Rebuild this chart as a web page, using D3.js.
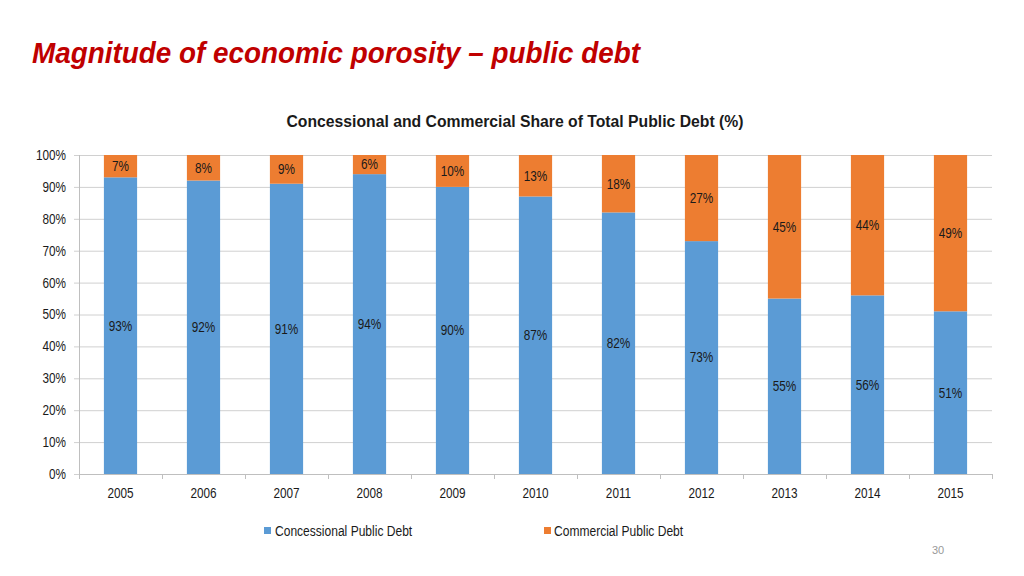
<!DOCTYPE html>
<html><head><meta charset="utf-8">
<script src="https://cdn.jsdelivr.net/npm/d3@7"></script>
<style>body{margin:0;background:#fff;}svg{display:block;}</style>
</head><body>
<svg id="c" width="1024" height="576"></svg>
<script>
const years = ["2005","2006","2007","2008","2009","2010","2011","2012","2013","2014","2015"];
const concessional = [93,92,91,94,90,87,82,73,55,56,51];
const commercial = [7,8,9,6,10,13,18,27,45,44,49];
const yTicks = [0,10,20,30,40,50,60,70,80,90,100];
const seriesNames = ["Concessional Public Debt","Commercial Public Debt"];
const colors = ["#5B9BD5","#ED7D31"];

const font = "'Liberation Sans Narrow','Arial Narrow','Liberation Sans',Arial,sans-serif";
const svg = d3.select("#c");
const m = {l:79, r:992, t:155, b:474};

function narrow(sel, k){
  sel.each(function(){
    const len = this.getComputedTextLength();
    d3.select(this).attr("textLength", len*k).attr("lengthAdjust","spacingAndGlyphs");
  });
}

const x = d3.scaleBand().domain(years).range([m.l, m.r]).paddingInner(0.6).paddingOuter(0.3);
const xb = d3.scaleBand().domain(years).range([m.l, m.r]);
const y = d3.scaleLinear().domain([0,100]).range([m.b, m.t]);

// title
svg.append("text").attr("x",32).attr("y",63).attr("fill","#C00000")
  .attr("font-family",font).attr("font-weight","bold").attr("font-style","italic")
  .attr("font-size",30).attr("textLength",608).attr("lengthAdjust","spacingAndGlyphs")
  .text("Magnitude of economic porosity \u2013 public debt");

svg.append("text").attr("x",515).attr("y",127).attr("text-anchor","middle").attr("fill","#1a1a1a")
  .attr("font-family",font).attr("font-weight","bold").attr("font-size",16)
  .attr("textLength",457).attr("lengthAdjust","spacingAndGlyphs")
  .text("Concessional and Commercial Share of Total Public Debt (%)");

// gridlines
svg.append("g").selectAll("line").data(yTicks).join("line")
  .attr("x1",m.l-5).attr("x2",m.r).attr("y1",d=>y(d)+0.5).attr("y2",d=>y(d)+0.5)
  .attr("stroke","#d0d0d0").attr("stroke-width",1);

// y labels
svg.append("g").selectAll("text").data(yTicks).join("text")
  .attr("x",m.l-13).attr("y",d=>y(d)).attr("dy","0.35em").attr("text-anchor","end")
  .attr("font-family",font).attr("font-size",14).attr("fill","#1a1a1a").text(d=>d+"%")
  .call(narrow,0.84);

// axis lines
svg.append("line").attr("x1",m.l+0.5).attr("x2",m.l+0.5).attr("y1",m.t).attr("y2",m.b+5).attr("stroke","#bfbfbf");
svg.append("line").attr("x1",m.l).attr("x2",m.r).attr("y1",m.b+0.5).attr("y2",m.b+0.5).attr("stroke","#bfbfbf");
svg.append("g").selectAll("line").data(years.concat(["end"])).join("line")
  .attr("x1",(d,i)=>Math.round(m.l+i*xb.step())+0.5).attr("x2",(d,i)=>Math.round(m.l+i*xb.step())+0.5)
  .attr("y1",m.b).attr("y2",m.b+5).attr("stroke","#bfbfbf");

// x labels
svg.append("g").selectAll("text").data(years).join("text")
  .attr("x",d=>x(d)+x.bandwidth()/2).attr("y",498).attr("text-anchor","middle")
  .attr("font-family",font).attr("font-size",14).attr("fill","#1a1a1a").text(d=>d)
  .call(narrow,0.84);

// bars
const rows = years.map((yr,i)=>({year:yr, a:concessional[i], b:commercial[i]}));
const stack = d3.stack().keys(["a","b"])(rows);
const g = svg.append("g");
stack.forEach((s,si)=>{
  g.selectAll(null).data(s).join("rect")
    .attr("x",d=>x(d.data.year)).attr("width",x.bandwidth())
    .attr("y",d=>y(Math.min(d[1],100))).attr("height",d=>y(d[0])-y(Math.min(d[1],100)))
    .attr("fill",colors[si]);
  g.selectAll(null).data(s).join("text")
    .attr("x",d=>x(d.data.year)+x.bandwidth()/2)
    .attr("y",d=>y((d[0]+Math.min(d[1],100))/2)).attr("dy","0.35em").attr("text-anchor","middle")
    .attr("font-family",font).attr("font-size",14).attr("fill","#1a1a1a")
    .text(d=>(d[1]-d[0])+"%")
    .call(narrow,0.84);
});

// legend
const leg = [{x:264,tx:275},{x:544,tx:554}];
leg.forEach((l,i)=>{
  svg.append("rect").attr("x",l.x).attr("y",527).attr("width",7).attr("height",7).attr("fill",colors[i]);
  svg.append("text").attr("x",l.tx).attr("y",531).attr("dy","0.35em")
    .attr("font-family",font).attr("font-size",14).attr("fill","#1a1a1a").text(seriesNames[i])
    .call(narrow,0.86);
});

svg.append("text").attr("x",938).attr("y",550).attr("dy","0.35em").attr("text-anchor","middle")
  .attr("font-family","'Liberation Sans',Arial,sans-serif").attr("font-size",11).attr("fill","#999").text("30");
</script>
</body></html>
